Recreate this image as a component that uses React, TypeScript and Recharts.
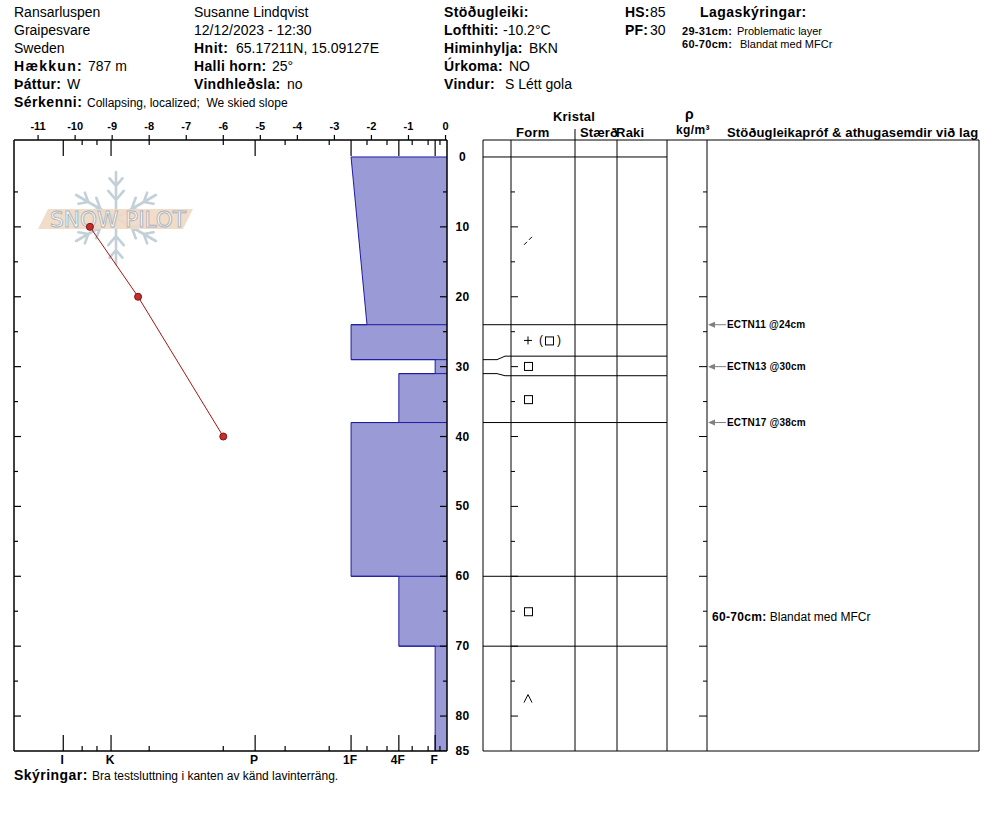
import React from 'react';
import { ComposedChart, Area, Line, XAxis, YAxis, ReferenceLine, Scatter } from 'recharts';

const FONT = '"Liberation Sans", Arial, Helvetica, sans-serif';

// ---------------- data ----------------
const layerTop = [0, 24, 29, 31, 38, 60, 70];
const layerBottom = [24, 29, 31, 38, 60, 70, 85];
const hardnessTopOfLayer = ['1F', '1F', 'F', '4F', '1F', '4F', 'F'];
const hardnessBottomOfLayer = ['1F-', '1F', 'F', '4F', '1F', '4F', 'F'];
const grainForms = ['DF', 'PP(FC)', 'FC', 'FC', '', 'FC', 'DH'];
const layerDisplayTop = [0, 24, 28.5, 31.3, 38, 60, 70];
const layerDisplayBottom = [24, 28.5, 31.3, 38, 60, 70, 85];

const tempDepths = [10, 20, 40];
const tempValues = [-9.6, -8.3, -6.0];

const testDepths = [24, 30, 38];
const testLabels = ['ECTN11 @24cm', 'ECTN13 @30cm', 'ECTN17 @38cm'];

const commentLayerIndex = [5];
const commentLabels = ['60-70cm:'];
const commentTexts = ['Blandat med MFCr'];

const tempTicks = [-11, -10, -9, -8, -7, -6, -5, -4, -3, -2, -1, 0];
const depthTicks = [0, 5, 10, 15, 20, 25, 30, 35, 40, 45, 50, 55, 60, 65, 70, 75, 80, 85];
const depthLabels = [0, 10, 20, 30, 40, 50, 60, 70, 80, 85];
const hardnessCodes = ['I', 'I-', 'K+', 'K', 'K-', 'P+', 'P', 'P-', '1F+', '1F', '1F-', '4F+', '4F', '4F-', 'F+', 'F', 'F-'];
const hardnessPositions = [-10.32, -9.81, -9.41, -9.03, -8.0, -6.0, -5.14, -4.33, -3.14, -2.55, -2.12, -1.58, -1.26, -0.9, -0.47, -0.28, -0.15];
const hardnessMainLabels = ['I', 'K', 'P', '1F', '4F', 'F'];

// ---------------- axis config ----------------
const TEMP_MIN = -11.65;
const TEMP_MAX = 0.04;
const DEPTH_MIN = -2.43;
const DEPTH_MAX = 85;

const hpos = (c: string) => hardnessPositions[hardnessCodes.indexOf(c)];

const profileData: { depth: number; h: number }[] = [{ depth: layerTop[0], h: TEMP_MAX }];
layerTop.forEach((t, i) => {
  profileData.push({ depth: t, h: hpos(hardnessTopOfLayer[i]) });
  profileData.push({ depth: layerBottom[i], h: hpos(hardnessBottomOfLayer[i]) });
});
profileData.push({ depth: layerBottom[layerBottom.length - 1], h: TEMP_MAX });

const boundaries = layerTop.slice(1).map((d, k) => {
  const i = k + 1;
  return { depth: d, h: Math.min(hpos(hardnessBottomOfLayer[i - 1]), hpos(hardnessTopOfLayer[i])) };
});

const tempData = tempDepths.map((d, i) => ({ depth: d, temp: tempValues[i] }));

const topTicks = Array.from(new Set([...tempTicks, ...hardnessPositions])).sort((a, b) => a - b);

const formData = grainForms
  .map((f, i) => ({ x: 45, y: (layerDisplayTop[i] + layerDisplayBottom[i]) / 2, form: f }))
  .filter((d) => d.form !== '');

const testData = testDepths.map((d, i) => ({ x: 224, y: d, label: testLabels[i] }));
const commentData = commentLayerIndex.map((li, i) => ({
  x: 229,
  y: (layerDisplayTop[li] + layerDisplayBottom[li]) / 2,
  label: commentLabels[i],
  text: commentTexts[i],
}));

// table columns (layout, px from table left)
const COLS = [0, 28, 92, 134, 184, 224, 496];

// ---------------- ticks ----------------
const isMain = (v: number) => hardnessMainLabels.includes(hardnessCodes[hardnessPositions.indexOf(v)]);

const TopTick = (p: any) => {
  const { x, y, payload } = p;
  const v = payload.value;
  const isTemp = tempTicks.includes(v);
  const hi = hardnessPositions.indexOf(v);
  return (
    <g>
      {isTemp && <line x1={x} y1={y} x2={x} y2={y - 5} stroke="#000" strokeWidth={1.2} />}
      {isTemp && (
        <text x={x} y={y - 10} textAnchor="middle" fontFamily={FONT} fontSize={11} fontWeight="bold" fill="#000">
          {v}
        </text>
      )}
      {hi >= 0 && <line x1={x} y1={y} x2={x} y2={y + (isMain(v) ? 16 : 5)} stroke="#000" strokeWidth={1.2} />}
    </g>
  );
};

const BottomTick = (p: any) => {
  const { x, y, payload } = p;
  const v = payload.value;
  const code = hardnessCodes[hardnessPositions.indexOf(v)];
  const main = hardnessMainLabels.includes(code);
  return (
    <g>
      <line x1={x} y1={y} x2={x} y2={y - (main ? 16 : 5)} stroke="#000" strokeWidth={1.2} />
      {main && (
        <text x={x - 1} y={y + 13} textAnchor="middle" fontFamily={FONT} fontSize={12} fontWeight="bold" fill="#000">
          {code}
        </text>
      )}
    </g>
  );
};

const LeftTick = (p: any) => {
  const { x, y, payload } = p;
  const v = payload.value;
  if (v === 0 || v === 85) return <g />;
  const len = v % 10 === 0 ? 7 : 4;
  return <line x1={x} y1={y} x2={x + len} y2={y} stroke="#000" strokeWidth={1.2} />;
};

const RightTick = (p: any) => {
  const { x, y, payload } = p;
  const v = payload.value;
  const len = v % 10 === 0 ? 7 : 4;
  return (
    <g>
      {v !== 0 && v !== 85 && <line x1={x} y1={y} x2={x - len} y2={y} stroke="#000" strokeWidth={1.2} />}
      {depthLabels.includes(v) && (
        <text x={x + 15.5} y={y + 4} textAnchor="middle" fontFamily={FONT} fontSize={12} fontWeight="bold" fill="#000" letterSpacing={0.3}>
          {v}
        </text>
      )}
    </g>
  );
};

// ---------------- table shapes ----------------
const FormSymbol = (p: any) => {
  const { cx, cy, payload } = p;
  const f = payload.form;
  const st = { stroke: '#000', strokeWidth: 1, fill: 'none' } as any;
  if (f === 'DF') {
    return (
      <g>
        <line x1={cx - 4} y1={cy + 4} x2={cx - 1} y2={cy + 1} {...st} />
        <line x1={cx + 1} y1={cy - 1} x2={cx + 4} y2={cy - 4} {...st} />
      </g>
    );
  }
  if (f === 'PP(FC)') {
    return (
      <g>
        <line x1={cx - 4} y1={cy} x2={cx + 4} y2={cy} {...st} />
        <line x1={cx} y1={cy - 4} x2={cx} y2={cy + 4} {...st} />
        <text x={cx + 11} y={cy + 4} fontFamily={FONT} fontSize={12} fill="#000">(</text>
        <rect x={cx + 17.5} y={cy - 3.5} width={8} height={8} {...st} />
        <text x={cx + 29} y={cy + 4} fontFamily={FONT} fontSize={12} fill="#000">)</text>
      </g>
    );
  }
  if (f === 'FC') {
    return <rect x={cx - 3.5} y={cy - 3.5} width={8} height={8} {...st} />;
  }
  if (f === 'DH') {
    return <polyline points={`${cx - 4},${cy + 4} ${cx},${cy - 4} ${cx + 4},${cy + 4}`} {...st} />;
  }
  return <g />;
};

const TestArrow = (p: any) => {
  const { cx, cy, payload } = p;
  return (
    <g>
      <polygon points={`${cx + 1},${cy} ${cx + 8},${cy - 3} ${cx + 8},${cy + 3}`} fill="#808080" />
      <line x1={cx + 3} y1={cy} x2={cx + 19} y2={cy} stroke="#808080" strokeWidth={1} />
      <text x={cx + 20} y={cy + 3.5} fontFamily={FONT} fontSize={10} fontWeight="bold" fill="#000" letterSpacing={0.2}>
        {payload.label}
      </text>
    </g>
  );
};

const CommentText = (p: any) => {
  const { cx, cy, payload } = p;
  return (
    <text x={cx} y={cy + 10} fontFamily={FONT} fontSize={12} fill="#000">
      <tspan fontWeight="bold" letterSpacing={0.3}>{payload.label}</tspan>
      <tspan>{'\u00a0' + payload.text}</tspan>
    </text>
  );
};

// ---------------- decorative logo ----------------
const Snowflake = () => {
  const cx = 116;
  const cy = 218;
  const L = 46;
  const parts: string[] = [];
  [90, 30, 150, 210, 270, 330].forEach((a) => {
    const r = (a * Math.PI) / 180;
    const ux = Math.cos(r);
    const uy = -Math.sin(r);
    parts.push(`M${cx},${cy} L${cx + ux * L},${cy + uy * L}`);
    [18, 32].forEach((d, k) => {
      const bx = cx + ux * d;
      const by = cy + uy * d;
      const bl = k === 0 ? 12 : 10;
      [40, -40].forEach((da) => {
        const rr = ((a + da) * Math.PI) / 180;
        parts.push(`M${bx},${by} L${bx + Math.cos(rr) * bl},${by - Math.sin(rr) * bl}`);
      });
    });
  });
  return <path d={parts.join(' ')} stroke="#c3d0d8" strokeWidth={2.6} fill="none" strokeLinecap="round" />;
};

// ---------------- text helpers ----------------
const T = ({
  x,
  y,
  b,
  r,
  vx,
  bs = 14,
  rs = 14,
  ls = 0.3,
}: {
  x: number;
  y: number;
  b?: string;
  r?: string;
  vx?: number;
  bs?: number;
  rs?: number;
  ls?: number;
}) => (
  <text x={x} y={y} fontFamily={FONT} fill="#000">
    {b && (
      <tspan fontWeight="bold" fontSize={bs} letterSpacing={ls}>
        {b}
      </tspan>
    )}
    {r && (
      <tspan fontSize={rs} x={vx}>
        {r}
      </tspan>
    )}
  </text>
);

const HB = { fontFamily: FONT, fontWeight: 'bold' as const, fill: '#000' };

export default function App() {
  return (
    <div style={{ position: 'absolute', left: 0, top: 0, width: 994, height: 840, background: '#fff' }}>
      <svg width={994} height={840} style={{ position: 'absolute', left: 0, top: 0 }}>
        {/* header */}
        <T x={14} y={17} r="Ransarluspen" />
        <T x={14} y={35} r="Graipesvare" />
        <T x={14} y={53} r="Sweden" />
        <T x={14} y={71} b="Hækkun:" r="787 m" vx={88} ls={1.3} />
        <T x={14} y={89} b="Þáttur:" r="W" vx={67} />
        <T x={14} y={107} b="Sérkenni:" r={'Collapsing, localized;\u00a0 We skied slope'} vx={87} rs={12} ls={0.5} />
        <T x={194} y={17} r="Susanne Lindqvist" />
        <T x={194} y={35} r="12/12/2023 - 12:30" />
        <T x={194} y={53} b="Hnit:" r="65.17211N, 15.09127E" vx={236} ls={0.5} />
        <T x={194} y={71} b="Halli horn:" r="25°" vx={272} />
        <T x={194} y={89} b="Vindhleðsla:" r="no" vx={287} />
        <T x={444} y={17} b="Stöðugleiki:" ls={0.4} />
        <T x={444} y={35} b="Lofthiti:" r="-10.2°C" vx={503} />
        <T x={444} y={53} b="Himinhylja:" r="BKN" vx={529} />
        <T x={444} y={71} b="Úrkoma:" r="NO" vx={509} />
        <T x={444} y={89} b="Vindur:" r="S Létt gola" vx={505} />
        <T x={625} y={17} b="HS:" r="85" vx={650} ls={0.2} />
        <T x={625} y={35} b="PF:" r="30" vx={650} ls={0.2} />
        <T x={700} y={17} b="Lagaskýringar:" ls={0.45} />
        <T x={682} y={35} b="29-31cm:" r="Problematic layer" vx={737} bs={11} rs={11} />
        <T x={682} y={48} b="60-70cm:" r="Blandat med MFCr" vx={740} bs={11} rs={11} />
        <T x={14} y={780} b="Skýringar:" r="Bra testsluttning i kanten av känd lavinterräng." vx={92} rs={12} ls={0.45} />

        {/* table header */}
        <text x={574} y={121} textAnchor="middle" fontSize={13} letterSpacing={0.25} {...HB}>Kristal</text>
        <text x={516} y={137} fontSize={13} letterSpacing={0.25} {...HB}>Form</text>
        <text x={580} y={137} fontSize={13} letterSpacing={0.1} {...HB}>Stærð</text>
        <text x={616} y={137} fontSize={13} letterSpacing={0.25} {...HB}>Raki</text>
        <text x={685} y={119} fontSize={14} {...HB}>ρ</text>
        <text x={676} y={134} fontSize={12} letterSpacing={0.4} {...HB}>
          kg/m³
        </text>
        <text x={727} y={137} fontSize={13} letterSpacing={0.15} {...HB}>
          Stöðugleikapróf &amp; athugasemdir við lag
        </text>
        <line x1={575} y1={129} x2={575} y2={140} stroke="#000" />

        {/* watermark logo */}
        <Snowflake />
        <polygon points="48,209 193,209 183,229 38,229" fill="#f0d8c4" opacity={0.9} />
        <text
          x={50}
          y={227}
          fontFamily='"DejaVu Sans", sans-serif'
          fontSize={21}
          fill="#ffffff"
          stroke="#a9b3ba"
          strokeWidth={0.9}
          textLength={136}
          lengthAdjust="spacingAndGlyphs"
        >
          SNOW PILOT
        </text>
      </svg>

      {/* left chart: hardness profile + temperature */}
      <div style={{ position: 'absolute', left: 0, top: 0 }}>
        <ComposedChart layout="vertical" width={480} height={800} data={profileData} margin={{ top: 110, right: 3, bottom: 29, left: 4 }}>
          <XAxis
            xAxisId="temp"
            orientation="top"
            type="number"
            domain={[TEMP_MIN, TEMP_MAX]}
            allowDataOverflow
            ticks={topTicks}
            interval={0}
            tickSize={0}
            tickMargin={0}
            tickLine={false}
            tick={(p: any) => <TopTick {...p} />}
            height={30}
            axisLine={{ stroke: '#000', strokeWidth: 1.5 }}
          />
          <XAxis
            xAxisId="hard"
            orientation="bottom"
            type="number"
            domain={[TEMP_MIN, TEMP_MAX]}
            allowDataOverflow
            ticks={hardnessPositions}
            interval={0}
            tickSize={0}
            tickMargin={0}
            tickLine={false}
            tick={(p: any) => <BottomTick {...p} />}
            height={20}
            axisLine={{ stroke: '#000', strokeWidth: 1.5 }}
          />
          <YAxis
            yAxisId="L"
            orientation="left"
            type="number"
            dataKey="depth"
            domain={[DEPTH_MIN, DEPTH_MAX]}
            allowDataOverflow
            ticks={depthTicks}
            interval={0}
            tickSize={0}
            tickMargin={0}
            tickLine={false}
            tick={(p: any) => <LeftTick {...p} />}
            width={10}
            axisLine={{ stroke: '#000', strokeWidth: 1.5 }}
          />
          <YAxis
            yAxisId="R"
            orientation="right"
            type="number"
            dataKey="depth"
            domain={[DEPTH_MIN, DEPTH_MAX]}
            allowDataOverflow
            ticks={depthTicks}
            interval={0}
            tickSize={0}
            tickMargin={0}
            tickLine={false}
            tick={(p: any) => <RightTick {...p} />}
            width={30}
            axisLine={{ stroke: '#000', strokeWidth: 1.5 }}
          />
          <Area
            xAxisId="hard"
            yAxisId="L"
            dataKey="h"
            type="linear"
            baseValue="dataMax"
            stroke="#1c1ca0"
            strokeWidth={1}
            fill="#9a9ad6"
            fillOpacity={1}
            dot={false}
            activeDot={false}
            isAnimationActive={false}
          />
          {boundaries.map((b, i) => (
            <ReferenceLine
              key={'b' + i}
              xAxisId="hard"
              yAxisId="L"
              ifOverflow="visible"
              segment={[
                { x: b.h, y: b.depth },
                { x: TEMP_MAX, y: b.depth },
              ]}
              stroke="#1c1ca0"
              strokeWidth={1}
            />
          ))}
          <Line
            xAxisId="temp"
            yAxisId="L"
            data={tempData}
            dataKey="temp"
            type="linear"
            stroke="#a81414"
            strokeWidth={1}
            dot={{ r: 3.5, fill: '#c0302f', stroke: '#8a1010', strokeWidth: 1 }}
            activeDot={false}
            isAnimationActive={false}
          />
        </ComposedChart>
      </div>

      {/* right table */}
      <div style={{ position: 'absolute', left: 0, top: 0 }}>
        <ComposedChart width={994} height={800} margin={{ top: 140, right: 15, bottom: 49, left: 483 }}>
          <XAxis type="number" dataKey="x" domain={[0, 496]} allowDataOverflow hide />
          <YAxis type="number" dataKey="y" domain={[DEPTH_MIN, DEPTH_MAX]} allowDataOverflow reversed hide />
          {COLS.map((c) => (
            <ReferenceLine key={'c' + c} x={c} stroke="#000" strokeWidth={1} ifOverflow="visible" />
          ))}
          <ReferenceLine y={DEPTH_MIN} stroke="#000" strokeWidth={1} ifOverflow="visible" />
          <ReferenceLine y={DEPTH_MAX} stroke="#000" strokeWidth={1} ifOverflow="visible" />
          <ReferenceLine
            segment={[
              { x: 0, y: layerTop[0] },
              { x: COLS[4], y: layerTop[0] },
            ]}
            stroke="#000"
            ifOverflow="visible"
          />
          {layerTop.slice(1).map((real, k) => {
            const disp = layerDisplayTop[k + 1];
            return (
              <React.Fragment key={'lb' + k}>
                <ReferenceLine segment={[{ x: 0, y: real }, { x: 14, y: real }]} stroke="#000" ifOverflow="visible" />
                <ReferenceLine segment={[{ x: 14, y: real }, { x: 22, y: disp }]} stroke="#000" ifOverflow="visible" />
                <ReferenceLine segment={[{ x: 22, y: disp }, { x: COLS[4], y: disp }]} stroke="#000" ifOverflow="visible" />
              </React.Fragment>
            );
          })}
          {depthTicks
            .filter((d) => d > 0 && d < 85)
            .map((d) => (
              <React.Fragment key={'t' + d}>
                <ReferenceLine
                  segment={[{ x: COLS[1], y: d }, { x: COLS[1] + (d % 10 === 0 ? 7 : 4), y: d }]}
                  stroke="#000"
                  ifOverflow="visible"
                />
                <ReferenceLine
                  segment={[{ x: COLS[5], y: d }, { x: COLS[5] - (d % 10 === 0 ? 8 : 4), y: d }]}
                  stroke="#000"
                  ifOverflow="visible"
                />
              </React.Fragment>
            ))}
          <Scatter data={formData} shape={(p: any) => <FormSymbol {...p} />} isAnimationActive={false} />
          <Scatter data={testData} shape={(p: any) => <TestArrow {...p} />} isAnimationActive={false} />
          <Scatter data={commentData} shape={(p: any) => <CommentText {...p} />} isAnimationActive={false} />
        </ComposedChart>
      </div>
    </div>
  );
}
